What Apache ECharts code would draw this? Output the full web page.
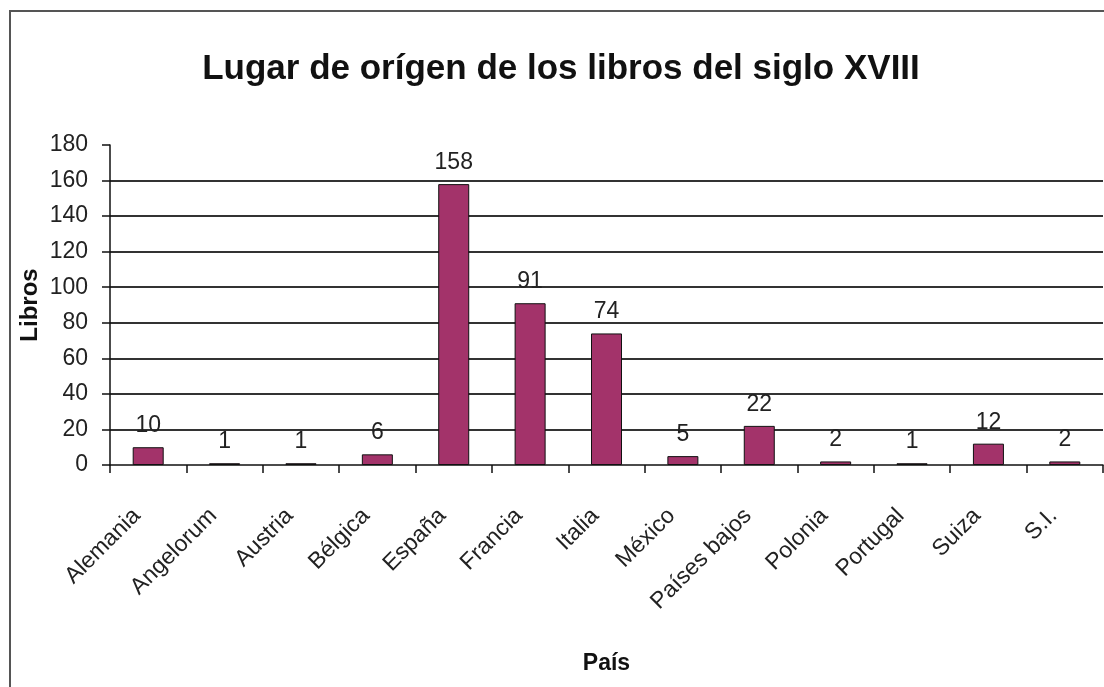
<!DOCTYPE html>
<html>
<head>
<meta charset="utf-8">
<script src="https://cdn.jsdelivr.net/npm/echarts@6/dist/echarts.min.js"></script>
<style>
  html, body { margin: 0; padding: 0; background: #fff; }
  #chart { width: 1104px; height: 687px; }
</style>
</head>
<body>
<div id="chart"></div>
<script>
// Datos del gráfico
const paises = ['Alemania', 'Angelorum', 'Austria', 'Bélgica', 'España', 'Francia', 'Italia', 'México', 'Países bajos', 'Polonia', 'Portugal', 'Suiza', 'S.I.'];
const libros = [10, 1, 1, 6, 158, 91, 74, 5, 22, 2, 1, 12, 2];
const yMin = 0;
const yMax = 180;
const yStep = 20;

const fontFamily = 'Arial, "Liberation Sans", sans-serif';

const chart = echarts.init(document.getElementById('chart'));

chart.setOption({
  animation: false,
  backgroundColor: '#fff',
  title: {
    text: 'Lugar de orígen de los libros del siglo XVIII',
    left: 556,
    textAlign: 'center',
    top: 47,
    textStyle: { fontFamily, fontSize: 35, fontWeight: 'bold', color: '#111' }
  },
  graphic: [{
    type: 'rect',
    shape: { x: 10, y: 11, width: 1110, height: 700 },
    style: { fill: 'none', stroke: '#555', lineWidth: 2 },
    silent: true
  }],
  grid: {
    left: 110,
    right: 1,
    top: 145,
    bottom: 222,
    containLabel: false,
    outerBoundsMode: 'none'
  },
  xAxis: {
    type: 'category',
    data: paises,
    name: 'País',
    nameLocation: 'middle',
    nameGap: 187,
    nameMoveOverlap: false,
    nameTextStyle: { fontFamily, fontSize: 23, fontWeight: 'bold', color: '#111' },
    axisLine: { lineStyle: { color: '#111', width: 1.5 } },
    axisTick: { show: true, length: 8, alignWithLabel: false, lineStyle: { color: '#111', width: 1.5 } },
    axisLabel: {
      interval: 0,
      rotate: 45,
      margin: 36,
      padding: [0, 16, 0, 0],
      fontFamily,
      fontSize: 23,
      color: '#222'
    }
  },
  yAxis: {
    type: 'value',
    min: yMin,
    max: yMax,
    interval: yStep,
    name: 'Libros',
    nameLocation: 'middle',
    nameGap: 68,
    nameMoveOverlap: false,
    nameTextStyle: { fontFamily, fontSize: 24, fontWeight: 'bold', color: '#111' },
    axisLine: { show: true, lineStyle: { color: '#111', width: 1.5 } },
    axisTick: { show: true, length: 8, lineStyle: { color: '#111', width: 1.5 } },
    axisLabel: { margin: 22, fontFamily, fontSize: 23, color: '#222' },
    splitLine: {
      show: true,
      showMinLine: false,
      showMaxLine: false,
      lineStyle: { color: '#333', width: 2 }
    }
  },
  series: [{
    type: 'bar',
    data: libros,
    barWidth: 31,
    itemStyle: { color: '#A3336A', borderColor: '#111', borderWidth: 1 },
    label: {
      show: true,
      position: 'top',
      distance: 10,
      fontFamily,
      fontSize: 23,
      color: '#222'
    }
  }]
});
</script>
</body>
</html>
